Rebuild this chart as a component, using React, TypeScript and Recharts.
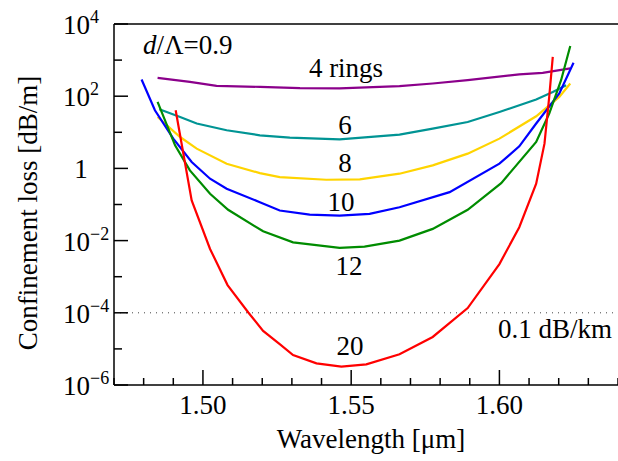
import { LineChart, Line, XAxis, YAxis, ReferenceLine } from "recharts";

// wavelength [um] and confinement loss [dB/m], one pair per ring count
const wl4 = [1.4847, 1.4956, 1.5046, 1.5192, 1.5327, 1.5461, 1.5663, 1.5775, 1.5893, 1.6067, 1.6146, 1.6239];
const loss4 = [322, 249, 193, 181, 167, 164, 190, 225, 278, 401, 444, 587];

const wl6 = [1.4853, 1.4923, 1.4979, 1.508, 1.5192, 1.5293, 1.5461, 1.5663, 1.5775, 1.5893, 1.6, 1.6124, 1.618, 1.6225];
const loss6 = [43.6, 26.6, 17.5, 11.4, 8.26, 7.13, 6.4, 8.63, 12.7, 19.3, 36.6, 80.9, 131, 202];

const wl8 = [1.4847, 1.4923, 1.4979, 1.508, 1.5192, 1.5259, 1.5416, 1.5529, 1.5663, 1.5775, 1.5893, 1.6, 1.6124, 1.6202, 1.6239];
const loss8 = [26.6, 7.4, 3.52, 1.35, 0.74, 0.573, 0.485, 0.494, 0.713, 1.21, 2.56, 6.68, 27.8, 95.7, 225];

const wl10 = [1.4793, 1.4838, 1.49, 1.4962, 1.5024, 1.508, 1.5192, 1.5259, 1.536, 1.5461, 1.5562, 1.5663, 1.5832, 1.6, 1.6067, 1.6124, 1.6202, 1.625];
const loss10 = [291, 40.8, 6.68, 1.5, 0.518, 0.273, 0.116, 0.0681, 0.0525, 0.0494, 0.055, 0.0841, 0.22, 1.35, 4.08, 17.5, 119, 841];

const wl12 = [1.4847, 1.4906, 1.4956, 1.5024, 1.5085, 1.5203, 1.5304, 1.5461, 1.5545, 1.5663, 1.5775, 1.5893, 1.6006, 1.6124, 1.6168, 1.6208, 1.6239];
const loss12 = [69.5, 4.36, 0.879, 0.198, 0.0713, 0.0181, 0.00897, 0.00627, 0.00681, 0.01, 0.0211, 0.0713, 0.391, 5.38, 33, 278, 2450];

const wl20 = [1.4908, 1.4962, 1.5024, 1.5083, 1.5153, 1.5203, 1.5259, 1.5304, 1.5383, 1.5467, 1.5551, 1.5663, 1.5775, 1.5893, 1.6, 1.6067, 1.6124, 1.6152, 1.6168, 1.618];
const loss20 = [40.8, 0.129, 0.00587, 5.87e-4, 1.02e-4, 3.16e-5, 1.35e-5, 6.76e-6, 3.98e-6, 3.24e-6, 3.72e-6, 7.08e-6, 2.14e-5, 1.35e-4, 2.24e-3, 0.0234, 0.376, 4.85, 95.5, 1230];

const xTicks = [1.47, 1.48, 1.49, 1.5, 1.51, 1.52, 1.53, 1.54, 1.55, 1.56, 1.57, 1.58, 1.59, 1.6, 1.61, 1.62, 1.63, 1.64];
const xMajor = [1.5, 1.55, 1.6];
const yTicks = [1e-6, 1e-5, 1e-4, 1e-3, 1e-2, 1e-1, 1, 10, 1e2, 1e3, 1e4];

const FONT = "'Liberation Serif', 'Times New Roman', Times, serif";

const zip = (xs: number[], ys: number[]) => xs.map((x, i) => ({ x, y: ys[i] }));

const series = [
  { key: "4", data: zip(wl4, loss4), color: "#8b008b" },
  { key: "6", data: zip(wl6, loss6), color: "#009494" },
  { key: "8", data: zip(wl8, loss8), color: "#ffd400" },
  { key: "10", data: zip(wl10, loss10), color: "#0000ff" },
  { key: "12", data: zip(wl12, loss12), color: "#008c00" },
  { key: "20", data: zip(wl20, loss20), color: "#ff0000" },
];

const txt = { fontFamily: FONT, fontSize: 27, fill: "#000" };

function XTick(props: any) {
  const { x, y, payload } = props;
  const major = xMajor.some((m) => Math.abs(m - payload.value) < 1e-6);
  return (
    <g>
      <line x1={x} x2={x} y1={y} y2={y - (major ? 15 : 7)} stroke="#000" strokeWidth={1.5} />
      {major && (
        <text x={x} y={y + 29} textAnchor="middle" {...txt}>
          {payload.value.toFixed(2)}
        </text>
      )}
    </g>
  );
}

function YTick(props: any) {
  const { x, y, payload } = props;
  const exp = Math.round(Math.log10(payload.value));
  const major = exp % 2 === 0;
  let label = null;
  if (major) {
    label =
      exp === 0 ? (
        <text x={x - 33} y={y + 10} textAnchor="middle" {...txt}>
          1
        </text>
      ) : (
        <text x={x - 51} y={y + 10} {...txt}>
          10
          <tspan dy={-11} fontSize={18}>
            {exp < 0 ? "\u2212" + -exp : exp}
          </tspan>
        </text>
      );
  }
  return (
    <g>
      <line x1={x} x2={x + (major ? 14 : 8)} y1={y} y2={y} stroke="#000" strokeWidth={1.5} />
      {label}
    </g>
  );
}

export default function App() {
  return (
    <div style={{ position: "absolute", left: 0, top: 0, background: "#fff" }}>
      <LineChart width={618} height={461} margin={{ top: 24, right: 0, bottom: 0, left: 0 }}>
        <XAxis
          type="number"
          dataKey="x"
          domain={[1.47, 1.64]}
          ticks={xTicks}
          interval={0}
          allowDataOverflow
          tickSize={0}
          tickLine={false}
          tickMargin={0}
          height={76}
          stroke="#000"
          strokeWidth={1.5}
          tick={<XTick />}
        />
        <YAxis
          type="number"
          scale="log"
          dataKey="y"
          domain={[1e-6, 1e4]}
          ticks={yTicks}
          interval={0}
          allowDataOverflow
          tickSize={0}
          tickLine={false}
          tickMargin={0}
          width={114}
          stroke="#000"
          strokeWidth={1.5}
          tick={<YTick />}
        />
        <ReferenceLine y={1e4} stroke="#000" strokeWidth={1.5} />
        <ReferenceLine y={1e-4} stroke="#444" strokeWidth={1} strokeDasharray="1 5" />
        {series.map((s) => (
          <Line
            key={s.key}
            data={s.data}
            dataKey="y"
            type="linear"
            stroke={s.color}
            strokeWidth={2.2}
            dot={false}
            isAnimationActive={false}
          />
        ))}
        <text x={143} y={54} {...txt}>
          <tspan fontStyle="italic">d</tspan>/Λ=0.9
        </text>
        <text x={346} y={77} textAnchor="middle" {...txt}>4 rings</text>
        <text x={345} y={134} textAnchor="middle" {...txt}>6</text>
        <text x={345} y={172} textAnchor="middle" {...txt}>8</text>
        <text x={341} y={211} textAnchor="middle" {...txt}>10</text>
        <text x={349} y={275} textAnchor="middle" {...txt}>12</text>
        <text x={350} y={355} textAnchor="middle" {...txt}>20</text>
        <text x={612} y={338} textAnchor="end" {...txt}>0.1 dB/km</text>
        <text x={371} y={448} textAnchor="middle" {...txt}>Wavelength [μm]</text>
        <text x={28} y={213} textAnchor="middle" transform="rotate(-90 28 213)" dy={9} {...txt}>
          Confinement loss [dB/m]
        </text>
      </LineChart>
    </div>
  );
}
